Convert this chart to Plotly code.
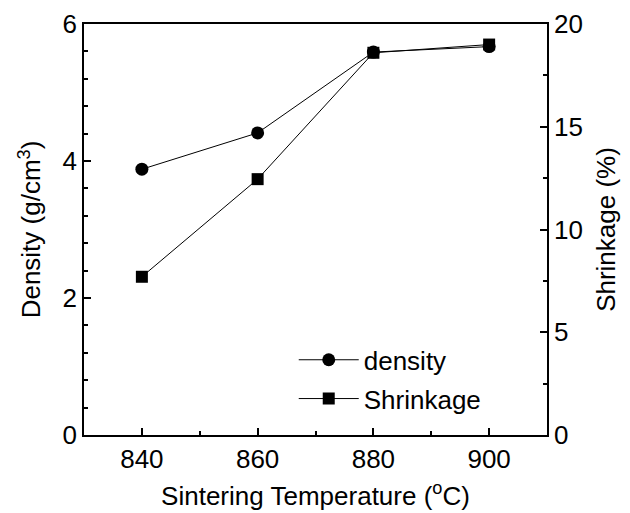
import plotly.graph_objects as go

temperature = [840, 860, 880, 900]
density = [3.88, 4.41, 5.59, 5.67]
shrinkage = [7.7, 12.45, 18.6, 19.0]

FONT = "Liberation Sans, Arial, sans-serif"

fig = go.Figure()
fig.add_trace(go.Scatter(
    x=temperature, y=density, name="density", mode="lines+markers",
    line=dict(color="black", width=1),
    marker=dict(symbol="circle", size=13, color="black"),
    legendgroup="a", yaxis="y"))
fig.add_trace(go.Scatter(
    x=temperature, y=shrinkage, name="Shrinkage", mode="lines+markers",
    line=dict(color="black", width=1),
    marker=dict(symbol="square", size=12, color="black"),
    legendgroup="b", yaxis="y2"))

axis_common = dict(showgrid=False, zeroline=False, showline=True, linecolor="black",
                   linewidth=1.5, ticks="inside", ticklen=7, tickwidth=1.5, tickcolor="black",
                   automargin=False,
                   tickfont=dict(size=26, color="black", family=FONT))

fig.update_layout(
    width=630, height=513,
    margin=dict(l=76, r=91, t=16, b=86),
    paper_bgcolor="white", plot_bgcolor="white",
    font=dict(family=FONT, color="black", size=26),
    xaxis=dict(range=[830, 910], tickvals=[840, 860, 880, 900], mirror=True,
               minor=dict(dtick=10, tick0=830, ticks="inside", ticklen=4, tickcolor="black"),
               title=dict(text="Sintering Temperature (<sup>o</sup>C)", font=dict(size=26), standoff=14),
               **axis_common),
    yaxis=dict(range=[0, 6], tickvals=[0, 2, 4, 6],
               minor=dict(dtick=0.4, tick0=0, ticks="inside", ticklen=4, tickcolor="black"),
               title=dict(text="Density (g/cm<sup>3</sup>)", font=dict(size=26), standoff=14),
               **axis_common),
    yaxis2=dict(range=[0, 20], tickvals=[0, 5, 10, 15, 20], overlaying="y", side="right",
                minor=dict(dtick=2.5, tick0=0, ticks="inside", ticklen=4, tickcolor="black"),
                title=dict(text="Shrinkage (%)", font=dict(size=26), standoff=15),
                **axis_common),
    legend=dict(x=0.453, y=0.24, xanchor="left", yanchor="top", bgcolor="rgba(0,0,0,0)",
                font=dict(size=26), tracegroupgap=2, itemwidth=60),
    showlegend=True,
)

fig.write_html("out.html")
